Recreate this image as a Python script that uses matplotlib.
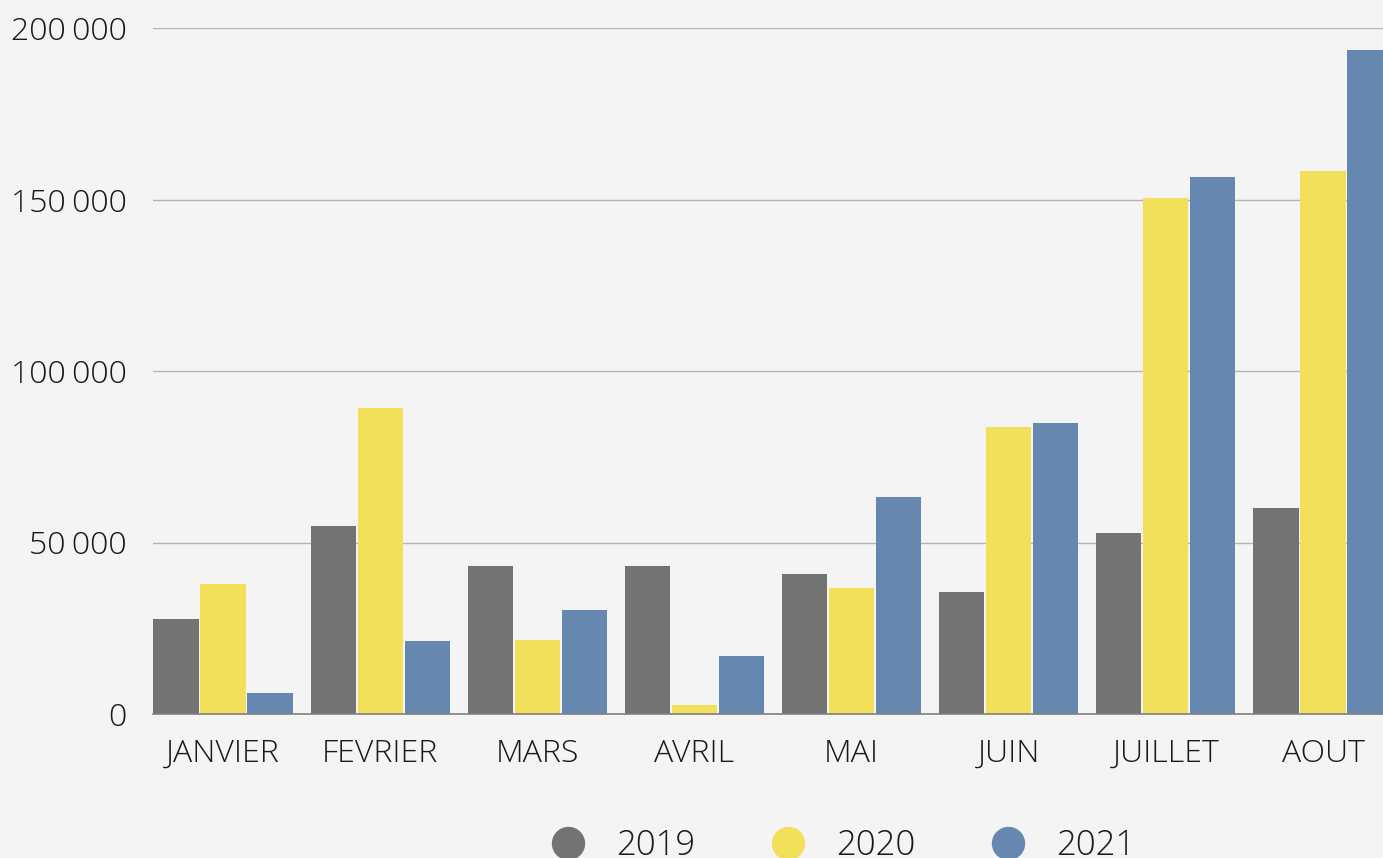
import numpy as np
import matplotlib
matplotlib.use('Agg')
import matplotlib.pyplot as plt
import matplotlib.ticker as mticker
from matplotlib.lines import Line2D

# --- data ---
months = ['JANVIER', 'FEVRIER', 'MARS', 'AVRIL', 'MAI', 'JUIN', 'JUILLET', 'AOUT']
years = ['2019', '2020', '2021']
values_2019 = [27700, 54800, 43100, 43100, 40800, 35600, 52800, 60100]
values_2020 = [37900, 89200, 21600, 2600, 36700, 83700, 150400, 158300]
values_2021 = [6100, 21300, 30300, 16900, 63300, 84800, 156600, 193600]
y_ticks = [0, 50000, 100000, 150000, 200000]

colors = ['#737373', '#f2df5a', '#6688b0']
bg = '#f4f4f4'

plt.rcParams['font.family'] = ['Open Sans', 'DejaVu Sans']
plt.rcParams['font.weight'] = 'light'

fig = plt.figure(figsize=(13.83, 8.58), dpi=100, facecolor=bg)
ax = fig.add_axes([153 / 1383, 1 - 714 / 858, 1 - 153 / 1383, (714 - 28) / 858])
ax.set_facecolor(bg)

x = np.arange(len(months))
width = 0.288
step = 0.299
series = [values_2019, values_2020, values_2021]
for i, vals in enumerate(series):
    ax.bar(x + (i - 1) * step, vals, width, color=colors[i], zorder=3, linewidth=0)

ax.set_ylim(0, 200000)
ax.set_xlim(-0.4456, 7.382)
ax.set_yticks(y_ticks)
ax.yaxis.set_major_formatter(mticker.FuncFormatter(
    lambda v, p: f'{int(v):,}'.replace(',', '\u2009')))
ax.set_xticks(x)
ax.set_xticklabels(months)

ax.grid(axis='y', color='#b4b4b4', linewidth=1.0, zorder=0)
for s in ['top', 'right', 'left']:
    ax.spines[s].set_visible(False)
ax.spines['bottom'].set_color('#808080')
ax.spines['bottom'].set_linewidth(1.2)
ax.spines['bottom'].set_zorder(4)
ax.tick_params(axis='both', length=0, labelsize=23, labelcolor='#1a1a1a')
ax.tick_params(axis='y', pad=19)
ax.tick_params(axis='x', pad=17)

# legend sits partly below the bottom edge, as in the reference
handles = [Line2D([], [], marker='o', linestyle='none', markersize=23,
                  markerfacecolor=c, markeredgecolor=c) for c in colors]
fig.legend(handles, years, loc='center', bbox_to_anchor=(843 / 1383, 1 - 846 / 858),
           ncol=3, frameon=False, fontsize=25, handlelength=1.0,
           handletextpad=0.9, columnspacing=2.15, labelcolor='#1a1a1a')

fig.savefig('out.png', dpi=100, facecolor=bg)
